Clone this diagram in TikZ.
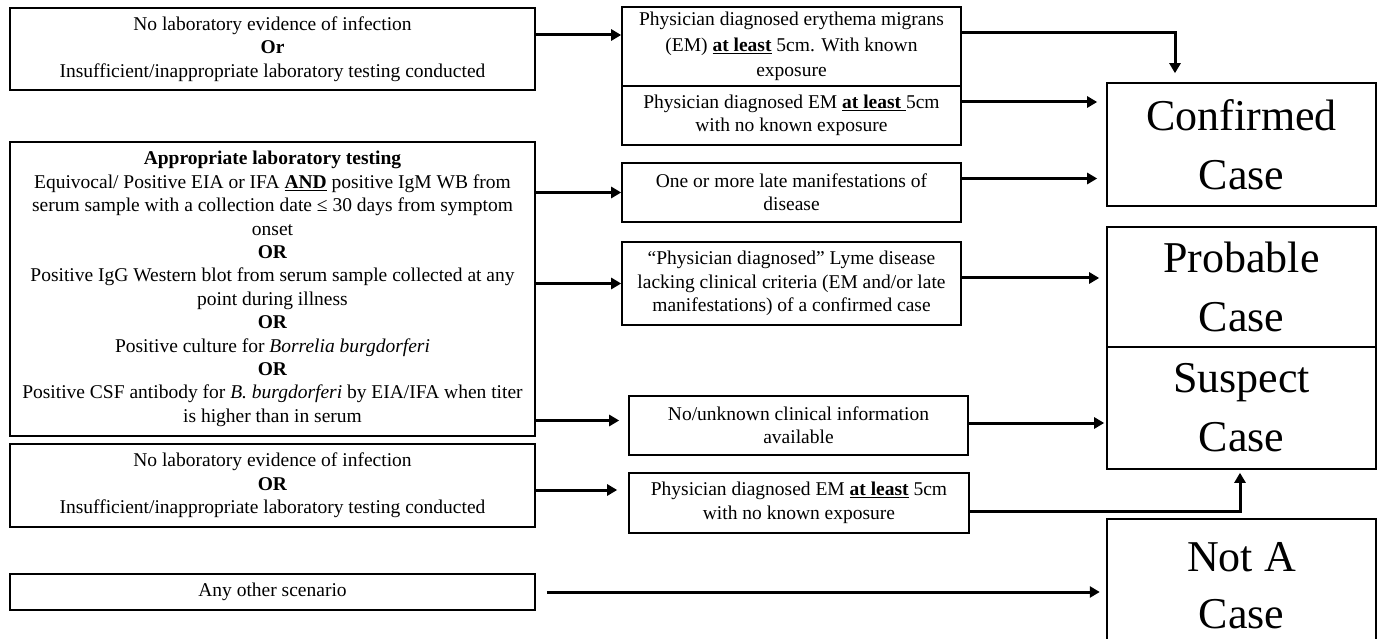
\documentclass[tikz,border=0pt]{standalone}
\usepackage{fontspec}
\setmainfont{Liberation Serif}
\usetikzlibrary{arrows.meta,calc}
\tikzset{
  box/.style={draw, line width=1.6pt, align=center, inner sep=0pt, font=\fontsize{19.5}{23.4}\selectfont},
  bigbox/.style={draw, line width=1.6pt, align=center, inner sep=0pt, font=\fontsize{44}{59}\selectfont},
  arr/.style={line width=3pt, -{Triangle[length=10pt,width=11pt]}},
}
\begin{document}
\begin{tikzpicture}[x=1pt,y=-1pt]
\useasboundingbox (0,0) rectangle (1385,639);
% left column
\node[box, minimum width=525pt, minimum height=82pt] (A) at (272.5,49)
 {No laboratory evidence of infection\\ \textbf{Or}\\ Insufficient/inappropriate laboratory testing conducted};
\node[box, minimum width=525pt, minimum height=294pt] (L) at (272.5,289)
 {\textbf{Appropriate laboratory testing}\\
  Equivocal/ Positive EIA or IFA \underline{\textbf{AND}} positive IgM WB from\\
  serum sample with a collection date ≤ 30 days from symptom\\
  onset\\ \textbf{OR}\\
  Positive IgG Western blot from serum sample collected at any\\
  point during illness\\ \textbf{OR}\\
  Positive culture for \textit{Borrelia burgdorferi}\\ \textbf{OR}\\
  Positive CSF antibody for \textit{B. burgdorferi} by EIA/IFA when titer\\
  is higher than in serum};
\node[box, minimum width=525pt, minimum height=83pt] (L3) at (272.5,485.5)
 {No laboratory evidence of infection\\ \textbf{OR}\\ Insufficient/inappropriate laboratory testing conducted};
\node[box, minimum width=525pt, minimum height=36pt] (L4) at (272.5,592) {Any other scenario};
% middle column
\node[box, minimum width=339pt, minimum height=79pt, font=\fontsize{19.5}{25.5}\selectfont] (B1) at (791.5,46.5)
 {Physician diagnosed erythema migrans\\ (EM) \underline{\textbf{at least}} 5cm. With known\\ exposure};
\node[box, minimum width=339pt, minimum height=59pt] (B2) at (791.5,115.5)
 {Physician diagnosed EM \underline{\textbf{at least}\ }5cm\\ with no known exposure};
\node[box, minimum width=339pt, minimum height=59pt] (C3) at (791.5,192.5)
 {One or more late manifestations of\\ disease};
\node[box, minimum width=339pt, minimum height=83pt] (C4) at (791.5,283.5)
 {“Physician diagnosed” Lyme disease\\ lacking clinical criteria (EM and/or late\\ manifestations) of a confirmed case};
\node[box, minimum width=339pt, minimum height=59pt] (C5) at (798.5,425.5)
 {No/unknown clinical information\\ available};
\node[box, minimum width=340pt, minimum height=60pt] (C6) at (799,503)
 {Physician diagnosed EM \underline{\textbf{at least}} 5cm\\ with no known exposure};
% right column
\node[bigbox, minimum width=269pt, minimum height=123pt] (Conf) at (1241.5,144.5) {Confirmed\\ Case};
\node[bigbox, minimum width=269pt, minimum height=120pt] (Prob) at (1241.5,287) {Probable\\ Case};
\node[bigbox, minimum width=269pt, minimum height=122pt] (Susp) at (1241.5,408) {Suspect\\ Case};
\node[align=center, inner sep=0pt, font=\fontsize{44}{57}\selectfont, minimum width=269pt, minimum height=134pt] (NC) at (1241.5,586) {Not A\\ Case};
\draw[line width=1.6pt] (NC.south west) -- (NC.north west) -- (NC.north east) -- (NC.south east);
% arrows left -> middle
\coordinate (a1) at ([yshift=14pt]A.east);
\draw[arr] (a1) -- (a1 -| B1.west);
\draw[arr] (L.east |- C3.west) -- (C3.west);
\draw[arr] (L.east |- C4.west) -- (C4.west);
\coordinate (l5) at ([yshift=5pt]C5.west);
\draw[arr, shorten >=9pt] (l5 -| L.east) -- (l5);
\coordinate (l6) at ([yshift=13pt]C6.west);
\draw[arr, shorten >=11pt] (l6 -| L3.east) -- (l6);
% arrows middle -> right
\coordinate (b1) at ([yshift=13.5pt]B1.east);
\coordinate (c1) at ([xshift=-66.5pt]Conf.north);
\draw[arr, shorten >=9pt] (b1) -| (c1);
\coordinate (b2) at ([yshift=13.5pt]B2.east);
\draw[arr, shorten >=9pt] (b2) -- (b2 -| Conf.west);
\coordinate (c3) at ([yshift=14pt]C3.east);
\draw[arr, shorten >=9pt] (c3) -- (c3 -| Conf.west);
\coordinate (c4) at ([yshift=5.5pt]C4.east);
\draw[arr, shorten >=7pt] (c4) -- (c4 -| Prob.west);
\coordinate (c5) at ([yshift=2.5pt]C5.east);
\draw[arr, shorten >=2pt] (c5) -- (c5 -| Susp.west);
\coordinate (c6) at ([yshift=-8pt]C6.east);
\coordinate (s6) at ([xshift=-1.5pt]Susp.south);
\draw[arr, shorten >=3pt] (c6) -| (s6);
\draw[arr, shorten <=11pt, shorten >=7pt] (L4.east) -- (L4.east -| NC.west);
\end{tikzpicture}
\end{document}
